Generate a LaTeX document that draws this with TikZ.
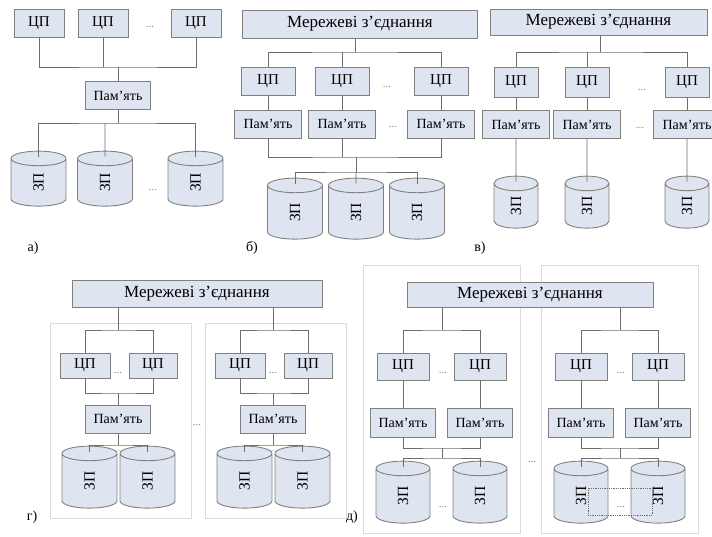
\documentclass[tikz,border=0pt]{standalone}
\usepackage{fontspec}
\setmainfont{Liberation Serif}
\usetikzlibrary{shapes.geometric}

\definecolor{boxfill}{RGB}{222,229,241}
\definecolor{boxline}{RGB}{128,128,128}
\definecolor{wirecol}{RGB}{110,110,110}
\definecolor{framecol}{RGB}{218,218,218}

\tikzset{
  unitbox/.style={draw=boxline, fill=boxfill, line width=0.9pt, inner sep=1pt, minimum height=28pt},
  cpubox/.style={unitbox, minimum width=50pt, font=\fontsize{15}{15}\selectfont},
  membox/.style={unitbox, minimum width=65pt, font=\fontsize{14}{14}\selectfont},
  netbox/.style={unitbox, font=\fontsize{17}{17}\selectfont},
  diskcyl/.style={cylinder, shape border rotate=90, aspect=1.4, draw=boxline, fill=boxfill,
    line width=0.9pt, inner sep=0pt, minimum width=55pt, minimum height=55pt,
    font=\fontsize{15.5}{15.5}\selectfont},
  busline/.style={draw=wirecol, line width=0.8pt},
  framebox/.style={draw=framecol, line width=0.8pt},
  dotmark/.style={text=gray, font=\fontsize{11}{11}\selectfont},
  panellabel/.style={font=\fontsize{14}{14}\selectfont}
}
% point inside the top face of a disk
\newcommand{\disktop}[1]{([yshift=-6pt]#1.north)}

\begin{document}
\begin{tikzpicture}[x=1pt,y=-1pt]
\useasboundingbox (0,0) rectangle (712,536);

% a) common memory
\begin{scope}
\foreach \n/\x in {1/39,2/103,3/196}
  \node[cpubox] (a-c\n) at (\x,23) {ЦП};
\node[dotmark] (a-d1) at (150,27) {...};
\node[membox] (a-m) at (118,95.5) {Пам’ять};
\foreach \n/\x in {1/38.5,2/105,3/195.5}
  \node[diskcyl] (a-s\n) at (\x,182.5) {\rotatebox{90}{ЗП}};
\node[dotmark] (a-d2) at (153,190) {...};
\coordinate (a-b1) at (118,67);
\coordinate (a-b2) at (118,123);
\draw[busline] (a-c1) |- (a-b1) -| (a-c3);
\draw[busline] (a-c2) -- (a-c2 |- a-b1);
\draw[busline] (a-b1) -- (a-m);
\draw[busline] (a-m) -- (a-b2);
\draw[busline] \disktop{a-s1} |- (a-b2) -| \disktop{a-s3};
\draw[busline] \disktop{a-s2} -- (a-s2 |- a-b2);
\node[panellabel] (a-lab) at (33,248) {а)};
\end{scope}

% b) local memory, common storage
\begin{scope}
\node[netbox, minimum width=235pt] (b-net) at (360,24) {Мережеві з’єднання};
\foreach \n/\x in {1/268,2/342,3/441} {
  \node[cpubox, minimum width=54pt] (b-c\n) at (\x,81) {ЦП};
  \node[membox, minimum width=67pt] (b-m\n) at (\x,124) {Пам’ять};
  \draw[busline] (b-c\n) -- (b-m\n);
}
\foreach \n/\x in {1/295,2/356,3/417}
  \node[diskcyl, minimum height=61pt] (b-s\n) at (\x,212.5) {\rotatebox{90}{ЗП}};
\node[dotmark] (b-d1) at (387,87) {...};
\node[dotmark] (b-d2) at (393,127) {...};
\coordinate (b-b1) at (355,52);
\coordinate (b-b2) at (356,157);
\coordinate (b-b3) at (356,172);
\draw[busline] (b-net.south -| b-b1) -- (b-b1);
\draw[busline] (b-c1) |- (b-b1) -| (b-c3);
\draw[busline] (b-c2) -- (b-c2 |- b-b1);
\draw[busline] (b-m1) |- (b-b2) -| (b-m3);
\draw[busline] (b-m2) -- (b-m2 |- b-b2);
\draw[busline] (b-b2) -- (b-b3);
\draw[busline] \disktop{b-s1} |- (b-b3) -| \disktop{b-s3};
\draw[busline] \disktop{b-s2} -- (b-b3);
\node[panellabel] (b-lab) at (252,248) {б)};
\end{scope}

% c) local memory, local storage
\begin{scope}
\node[netbox, minimum width=217pt, minimum height=26pt] (c-net) at (598.5,22) {Мережеві з’єднання};
\foreach \n/\x in {1/516,2/587,3/687} {
  \node[cpubox, minimum width=44pt, minimum height=30pt] (c-c\n) at (\x,82) {ЦП};
  \node[membox, minimum width=67pt] (c-m\n) at (\x,124.5) {Пам’ять};
  \node[diskcyl, minimum width=44pt, minimum height=52pt] (c-s\n) at (\x,206) {\rotatebox{90}{ЗП}};
  \draw[busline] (c-c\n) -- (c-m\n);
  \draw[busline] (c-m\n) -- \disktop{c-s\n};
}
\node[dotmark] (c-d1) at (642,90) {...};
\node[dotmark] (c-d2) at (640,128) {...};
\coordinate (c-b1) at (600,52);
\draw[busline] (c-net.south -| c-b1) -- (c-b1);
\draw[busline] (c-c1) |- (c-b1) -| (c-c3);
\draw[busline] (c-c2) -- (c-c2 |- c-b1);
\node[panellabel] (c-lab) at (480,248) {в)};
\end{scope}

% d) clusters with shared memory
\node[netbox, minimum width=250pt, minimum height=27pt] (d-net) at (197,293.5) {Мережеві з’єднання};
\foreach \k/\dx in {1/0,2/155} {
\begin{scope}[shift={(\dx,0)}]
  \draw[framebox] (50,323) rectangle (191,518);
  \node[cpubox, minimum height=25pt] (d-c\k1) at (85,365.5) {ЦП};
  \node[cpubox, minimum width=48pt, minimum height=25pt] (d-c\k2) at (153,365.5) {ЦП};
  \node[membox] (d-m\k) at (118,419) {Пам’ять};
  \node[diskcyl, minimum height=62pt] (d-s\k1) at (89.5,481) {\rotatebox{90}{ЗП}};
  \node[diskcyl, minimum height=62pt] (d-s\k2) at (147.5,481) {\rotatebox{90}{ЗП}};
  \node[dotmark] (d-d\k1) at (118,373) {...};
  \node[dotmark, font=\fontsize{8}{8}\selectfont] (d-d\k2) at (118,451) {...};
  \coordinate (d-t\k) at (118,330);
  \coordinate (d-u\k) at (118,393);
  \coordinate (d-w\k) at (118,445);
  \draw[busline] (d-net.south -| d-t\k) -- (d-t\k);
  \draw[busline] (d-c\k1) |- (d-t\k) -| (d-c\k2);
  \draw[busline] (d-c\k1) |- (d-u\k) -| (d-c\k2);
  \draw[busline] (d-u\k) -- (d-m\k);
  \draw[busline] (d-m\k) -- (d-w\k);
  \draw[busline] \disktop{d-s\k1} |- (d-w\k) -| \disktop{d-s\k2};
\end{scope}
}
\node[dotmark] (d-dm) at (197,425) {...};
\node[panellabel] (d-lab) at (32,517) {г)};

% e) clusters with local memory
\foreach \k/\dx in {1/0,2/178}
  \draw[framebox] (363+\dx,265) rectangle (520+\dx,533);
\node[netbox, minimum width=246pt, minimum height=25pt] (e-net) at (530,294.5) {Мережеві з’єднання};
\foreach \k/\dx in {1/0,2/178} {
\begin{scope}[shift={(\dx,0)}]
  \foreach \n/\x in {1/403,2/480} {
    \node[cpubox, minimum width=52pt, minimum height=27pt] (e-c\k\n) at (\x,366.5) {ЦП};
    \node[membox, minimum height=29pt] (e-m\k\n) at (\x,422.5) {Пам’ять};
    \node[diskcyl, minimum width=54pt, minimum height=62pt] (e-s\k\n) at (\x,496) {\rotatebox{90}{ЗП}};
    \draw[busline] (e-c\k\n) -- (e-m\k\n);
  }
  \node[dotmark] (e-d\k1) at (443,373) {...};
  \node[dotmark] (e-d\k2) at (443,507) {...};
  \coordinate (e-t\k) at (442,330);
  \coordinate (e-u\k) at (442,448);
  \coordinate (e-w\k) at (442,458);
  \draw[busline] (e-net.south -| e-t\k) -- (e-t\k);
  \draw[busline] (e-c\k1) |- (e-t\k) -| (e-c\k2);
  \draw[busline] (e-m\k1) |- (e-u\k) -| (e-m\k2);
  \draw[busline] (e-u\k) -- (e-w\k);
  \draw[busline] \disktop{e-s\k1} |- (e-w\k) -| \disktop{e-s\k2};
\end{scope}
}
\draw[densely dotted, draw=wirecol, line width=0.8pt] (588,488) rectangle (652,515);
\node[dotmark] (e-dm) at (532,462) {...};
\node[panellabel] (e-lab) at (352,517) {д)};
\end{tikzpicture}
\end{document}
